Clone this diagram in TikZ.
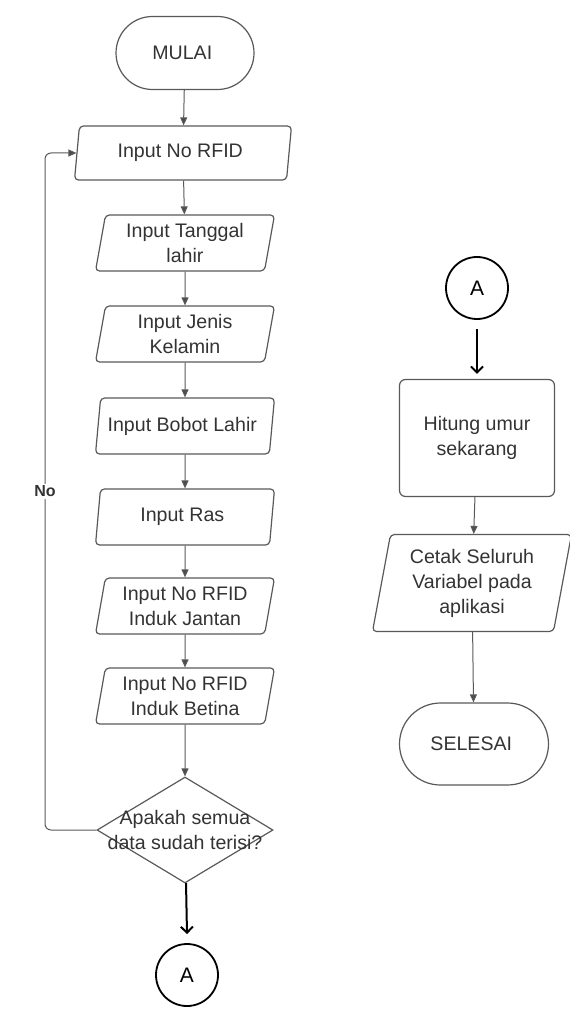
\documentclass[tikz,border=0pt]{standalone}
\usepackage{fontspec}
\setmainfont{Liberation Sans}
\usepackage{tikz}
\usetikzlibrary{shapes.geometric, shapes.misc, arrows.meta, positioning}
\tikzstyle{every node}=[font=\fontsize{9.8}{12.5}\selectfont, text=black!80]
\tikzset{TerminalStyle/.style = {
						shape          = rounded rectangle,
			      draw           = black!65,
			      line width     = 0.6pt,
			      align          = center,
			      inner sep      = 2pt,
			      minimum width  = 73pt,
			      minimum height = 36.5pt},
		InputStyle/.style = {
						shape          = trapezium,
						trapezium left angle  = 77,
						trapezium right angle = 103,
						trapezium stretches body,
			      draw           = black!65,
			      line width     = 0.6pt,
			      rounded corners = 2pt,
			      align          = center,
			      inner sep      = 1pt,
			      minimum width  = 89.5pt,
			      minimum height = 28pt},
		ProcessStyle/.style = {
						shape          = rectangle,
			      draw           = black!65,
			      line width     = 0.6pt,
			      rounded corners = 3pt,
			      align          = center,
			      minimum width  = 77.5pt,
			      minimum height = 58.5pt},
		DecisionStyle/.style = {
						shape          = diamond,
			      draw           = black!65,
			      line width     = 0.6pt,
			      inner sep      = 0pt,
			      minimum width  = 88pt,
			      minimum height = 53pt},
		ConnectorStyle/.style = {
						shape          = circle,
			      draw           = black,
			      line width     = 0.9pt,
			      font           = \fontsize{10.5}{12}\selectfont,
			      text           = black,
			      minimum size   = 31pt},
		FlowStyle/.style = {
						draw = black!65,
						line width = 0.5pt,
						-{Triangle[length=4pt, width=3.5pt, fill=black!70]}},
		JumpStyle/.style = {
						draw = black,
						line width = 1pt,
						-{Straight Barb[length=3pt, width=6pt]}}
						}

\begin{document}
\begin{tikzpicture}[x=0.5pt,y=-0.5pt]
							\useasboundingbox (0,0) rectangle (569,1010);

							% left column
							\draw (185,53)  node[TerminalStyle] (Mulai)   { MULAI };
							\draw (183,153) node[InputStyle, minimum width=108.5pt, minimum height=27pt] (RFID) { Input No RFID };
							\draw (185,243) node[InputStyle] (Tanggal) { Input Tanggal\\lahir };
							\draw (185,334) node[InputStyle] (Kelamin) { Input Jenis\\Kelamin };
							\draw (185,426) node[InputStyle] (Bobot)   { Input Bobot Lahir };
							\draw (185,517) node[InputStyle] (Ras)     { Input Ras };
							\draw (185,606) node[InputStyle] (Jantan)  { Input No RFID\\Induk Jantan };
							\draw (185,696) node[InputStyle] (Betina)  { Input No RFID\\Induk Betina };
							\draw (185,830) node[DecisionStyle, label={[align=center]center:Apakah semua\\data sudah terisi?}] (Cek) {};
							\draw (187,975) node[ConnectorStyle] (A1) { A };
							\coordinate (Balik) at (45,153);

							% right column
							\draw (477,288) node[ConnectorStyle] (A2) { A };
							\draw (477,438) node[ProcessStyle] (Hitung) { Hitung umur\\sekarang };
							\draw (472,583) node[InputStyle, minimum width=99.5pt, minimum height=48.5pt, trapezium left angle=76, trapezium right angle=104] (Cetak) { Cetak Seluruh\\Variabel pada\\aplikasi };
							\draw (474,744) node[TerminalStyle, minimum width=78.5pt, minimum height=41pt] (Selesai) { SELESAI };

							\draw[FlowStyle]    (Mulai) to[] (RFID);
							\draw[FlowStyle]    (RFID) to[] (Tanggal);
							\draw[FlowStyle]    (Tanggal) to[] (Kelamin);
							\draw[FlowStyle]    (Kelamin) to[] (Bobot);
							\draw[FlowStyle]    (Bobot) to[] (Ras);
							\draw[FlowStyle]    (Ras) to[] (Jantan);
							\draw[FlowStyle]    (Jantan) to[] (Betina);
							\draw[FlowStyle]    (Betina) to[] (Cek);
							\draw[FlowStyle, rounded corners=3pt]    (Cek.west) -| node[pos=0.75, fill=white, inner sep=1pt, font=\fontsize{8}{10}\selectfont\bfseries] {No} (Balik) -- (RFID.west);

							\draw[JumpStyle]    (Cek) to[] ([yshift=4.5pt]A1.north);
							\draw[JumpStyle]    ([yshift=-4.5pt]A2.south) to[] ([yshift=2.5pt]Hitung.north);

							\draw[FlowStyle]    (Hitung) to[] (Cetak);
							\draw[FlowStyle]    (Cetak) to[] (Selesai);

					\end{tikzpicture}
\end{document}
